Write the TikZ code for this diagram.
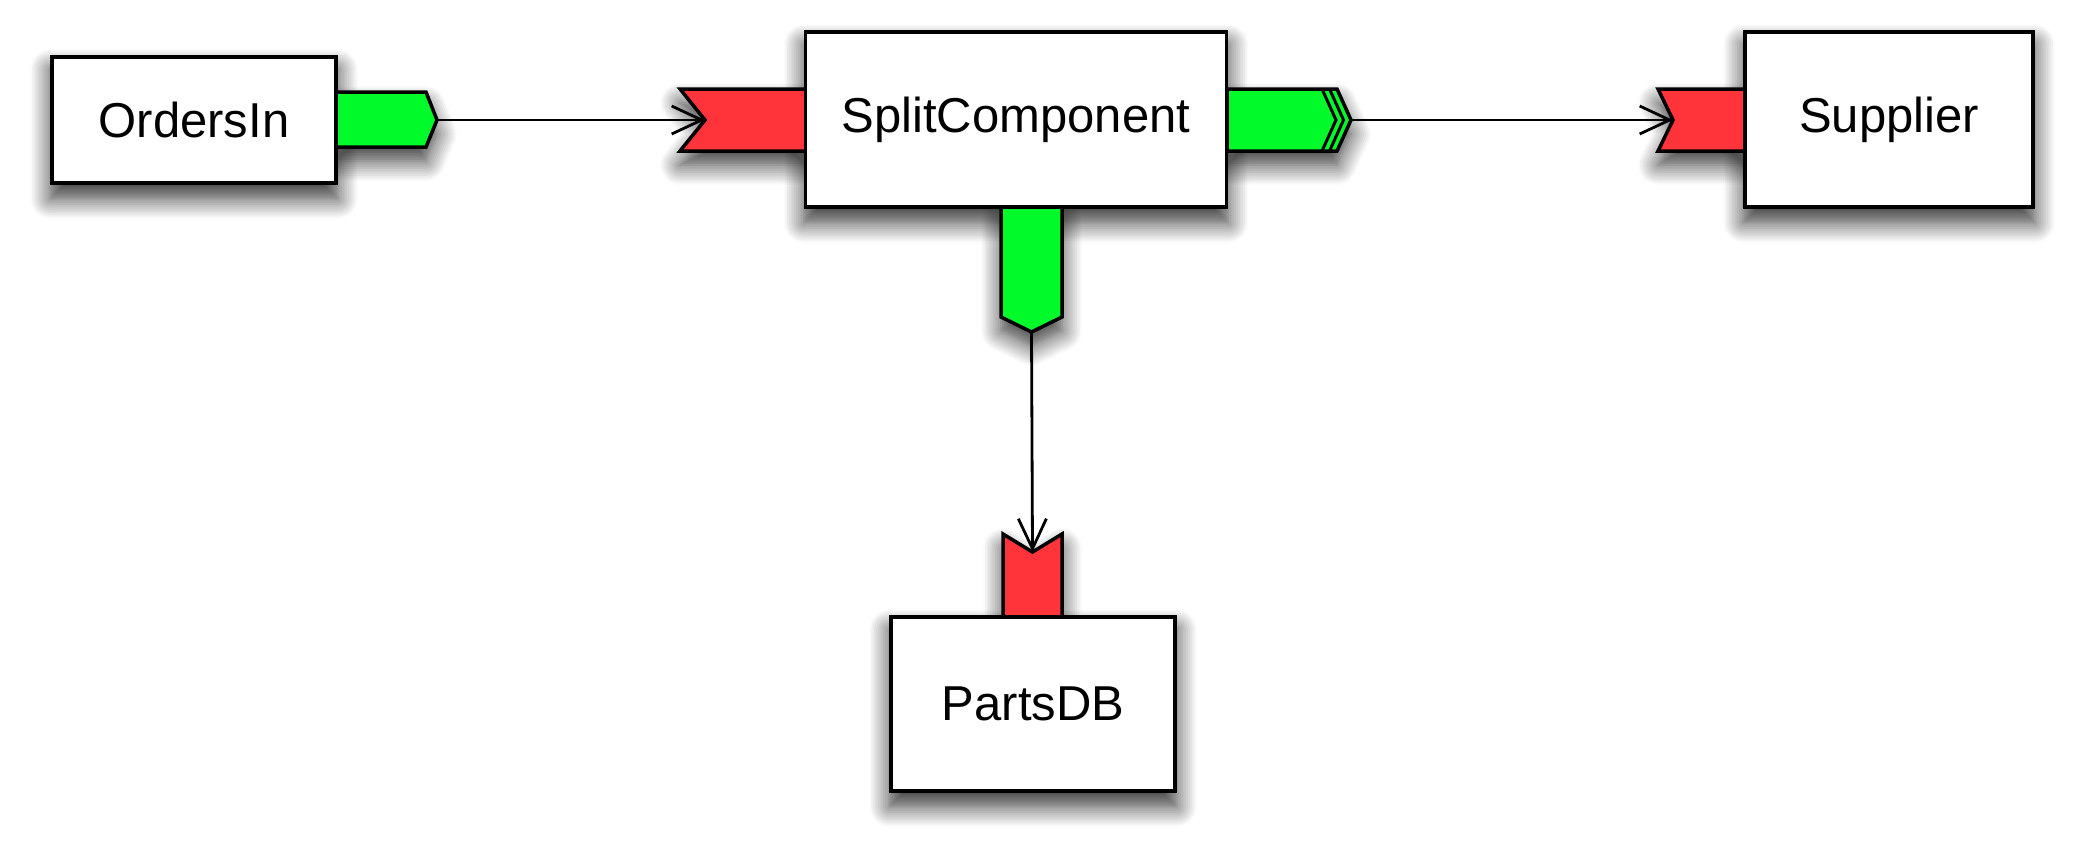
\documentclass[tikz,border=0pt]{standalone}
\usepackage{fontspec}
\setmainfont{Liberation Sans}
\usetikzlibrary{arrows.meta,shadows.blur,backgrounds}
\definecolor{portgreen}{RGB}{0,250,42}
\definecolor{portred}{RGB}{255,51,58}
\tikzset{
  comp/.style={draw=black, line width=3.5pt, fill=white, inner sep=0pt,
    font=\fontsize{49}{58}\selectfont},
  outport/.style={draw=black, line width=3.5pt, fill=portgreen, line join=miter},
  inport/.style={draw=black, line width=3.5pt, fill=portred, line join=miter},
  chev/.style={draw=black, line width=3pt, line join=miter},
  wire/.style={draw=black, line width=2.8pt, -{Straight Barb[length=30pt,width=28pt,line width=2.8pt]}},
  shad/.style={fill=white, draw=none, blur shadow={shadow xshift=0pt, shadow yshift=-14pt, shadow blur radius=20pt, shadow blur steps=12, shadow opacity=80}}
}
\begin{document}
\begin{tikzpicture}[x=1pt,y=-1pt]
\useasboundingbox (0,0) rectangle (2079,854);
% ports
\draw[outport] (336,92) -- (426,92) -- (437,120) -- (426,147) -- (336,147) -- cycle;
\coordinate (ordOut) at (437,120);
\draw[inport] (680,89) -- (806,89) -- (806,151) -- (680,151) -- (705,120) -- cycle;
\coordinate (splIn) at (705,120);
\draw[outport] (1227,89) -- (1337,89) -- (1351,120) -- (1337,151) -- (1227,151) -- cycle;
\draw[chev] (1322,89) -- (1336,120) -- (1322,151);
\draw[chev] (1329.5,89) -- (1343.5,120) -- (1329.5,151);
\coordinate (splOut) at (1351,120);
\draw[inport] (1658,89) -- (1745,89) -- (1745,151) -- (1658,151) -- (1673,120) -- cycle;
\coordinate (supIn) at (1673,120);
\draw[outport] (1001,207) -- (1062,207) -- (1062,317) -- (1031.5,332) -- (1001,317) -- cycle;
\coordinate (splDown) at (1031.5,332);
\draw[inport] (1003,534) -- (1032.5,552) -- (1062,534) -- (1062,617) -- (1003,617) -- cycle;
\coordinate (prtIn) at (1032.5,552);
% components
\node[comp, minimum width=284pt, minimum height=126pt] (orders) at (194,120) {OrdersIn};
\node[comp, minimum width=421pt, minimum height=175pt] (split) at (1016,119.5) {SplitComponent};
\node[comp, minimum width=288pt, minimum height=175pt] (supplier) at (1889,119.5) {Supplier};
\node[comp, minimum width=284pt, minimum height=174pt] (parts) at (1033,704) {PartsDB};
% connectors
\draw[wire] (ordOut) -- (splIn);
\draw[wire] (splOut) -- (supIn);
\draw[wire] (splDown) -- (prtIn);
% shadows
\begin{scope}[on background layer]
\path[shad] (orders.north west) rectangle (orders.south east);
\path[shad] (split.north west) rectangle (split.south east);
\path[shad] (supplier.north west) rectangle (supplier.south east);
\path[shad] (parts.north west) rectangle (parts.south east);
\path[shad] (336,92) -- (426,92) -- (437,120) -- (426,147) -- (336,147) -- cycle;
\path[shad] (680,89) -- (806,89) -- (806,151) -- (680,151) -- (705,120) -- cycle;
\path[shad] (1227,89) -- (1337,89) -- (1351,120) -- (1337,151) -- (1227,151) -- cycle;
\path[shad] (1658,89) -- (1745,89) -- (1745,151) -- (1658,151) -- (1673,120) -- cycle;
\path[shad] (1001,207) -- (1062,207) -- (1062,317) -- (1031.5,332) -- (1001,317) -- cycle;
\path[shad] (1003,534) -- (1032.5,552) -- (1062,534) -- (1062,617) -- (1003,617) -- cycle;
\end{scope}
\end{tikzpicture}
\end{document}
